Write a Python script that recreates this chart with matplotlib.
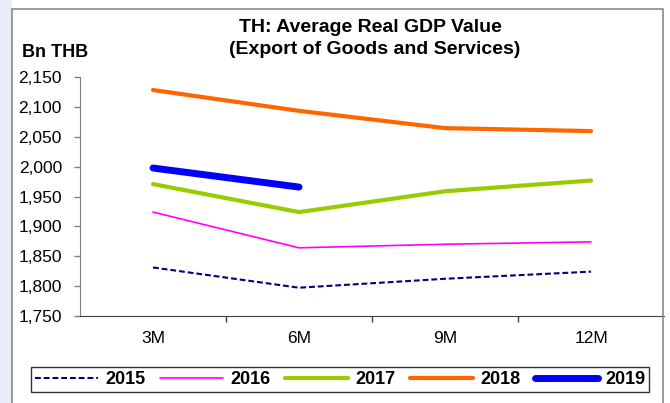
import matplotlib
matplotlib.use("Agg")
import matplotlib.pyplot as plt
from matplotlib.patches import Rectangle
from matplotlib.ticker import FixedLocator, FuncFormatter

plt.rcParams['font.family'] = ['Liberation Sans', 'DejaVu Sans']

# quarterly-cumulative averages, Bn THB
periods = ['3M', '6M', '9M', '12M']
years = ['2015', '2016', '2017', '2018', '2019']
gdp_2015 = [1831, 1797, 1812, 1824]
gdp_2016 = [1924, 1864, 1870, 1874]
gdp_2017 = [1971, 1924, 1959, 1977]
gdp_2018 = [2129, 2094, 2065, 2060]
gdp_2019 = [1998, 1966]

series = [gdp_2015, gdp_2016, gdp_2017, gdp_2018, gdp_2019]
styles = [
    dict(color='#000080', lw=1.5, ls=(0, (2.8, 1.4))),
    dict(color='#FF00FF', lw=1.2),
    dict(color='#99CC00', lw=3.0),
    dict(color='#FF6600', lw=3.0),
    dict(color='#0000FF', lw=5.0),
]

W, H = 670, 403
fig = plt.figure(figsize=(W / 100, H / 100), dpi=100)
fig.patch.set_facecolor('white')

# pale strip down the left edge and the outer frame
fig.patches.append(Rectangle((0, 0), 12 / W, 1, transform=fig.transFigure,
                             facecolor='#E9EDF8', edgecolor='none', zorder=0))
fig.patches.append(Rectangle((12.5 / W, -0.05), (663 - 12.5) / W, 1.05 - 9 / H,
                             transform=fig.transFigure, facecolor='none',
                             edgecolor='#808080', lw=1.1, zorder=1))

ax = fig.add_axes([80 / W, 1 - 315.7 / H, (664 - 80) / W, (315.7 - 77.5) / H])
ax.set_facecolor('none')

for name, vals, st in zip(years, series, styles):
    ax.plot(range(len(vals)), vals, label=name, solid_capstyle='round',
            dash_capstyle='butt', zorder=3, **st)

ax.set_xlim(-0.5, len(periods) - 0.5)
ax.set_ylim(1750, 2150)
ax.set_yticks(range(1750, 2151, 50))
ax.yaxis.set_major_formatter(FuncFormatter(lambda v, p: f'{int(v):,}'))

# tick marks between categories, labels at category centres
ax.xaxis.set_major_locator(FixedLocator([i + 0.5 for i in range(len(periods) - 1)]))
ax.xaxis.set_major_formatter(FuncFormatter(lambda v, p: ''))
ax.xaxis.set_minor_locator(FixedLocator(range(len(periods))))
ax.set_xticklabels(periods, minor=True)
ax.tick_params(axis='x', which='major', direction='out', length=4,
               color='#404040', width=1)
ax.tick_params(axis='x', which='minor', length=0, pad=11, labelsize=12.5)
ax.tick_params(axis='y', direction='out', length=4, color='#808080',
               width=1, pad=9, labelsize=12.5)

for s in ['top', 'right']:
    ax.spines[s].set_visible(False)
ax.spines['left'].set_color('#808080')
ax.spines['bottom'].set_color('#404040')

fig.text(370 / W, 1 - 32 / H, 'TH: Average Real GDP Value', ha='center',
         va='baseline', fontsize=14, fontweight='bold')
fig.text(375 / W, 1 - 54 / H, '(Export of Goods and Services)', ha='center',
         va='baseline', fontsize=14, fontweight='bold')
fig.text(22 / W, 1 - 57 / H, 'Bn THB', ha='left', va='baseline',
         fontsize=13, fontweight='bold')

leg = fig.legend(loc='center', bbox_to_anchor=(340 / W, 1 - 379.5 / H),
                 ncol=5, frameon=True, fancybox=False, shadow=False,
                 prop=dict(weight='bold', size=13), handlelength=3.5,
                 handletextpad=0.4, columnspacing=0.8, borderpad=0.2,
                 borderaxespad=0)
leg.get_frame().set_edgecolor('black')
leg.get_frame().set_linewidth(1.0)

fig.savefig('out.png', dpi=100, facecolor='white')
